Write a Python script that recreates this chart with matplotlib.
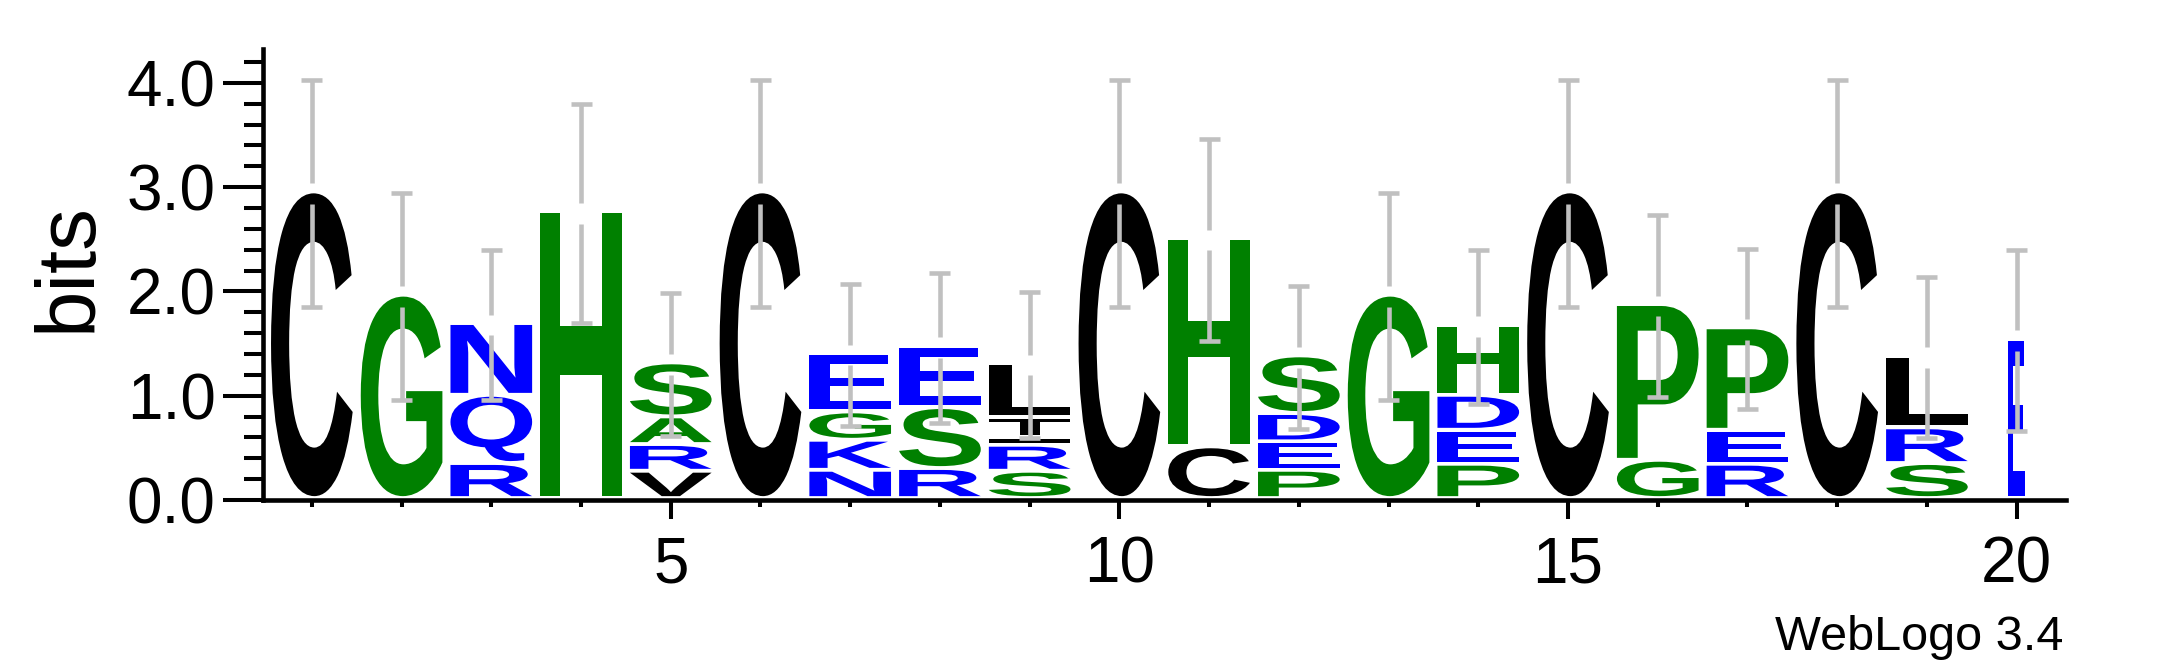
import matplotlib
matplotlib.use('Agg')
import matplotlib.pyplot as plt
from matplotlib.textpath import TextPath
from matplotlib.font_manager import FontProperties
from matplotlib.patches import PathPatch
from matplotlib.transforms import Affine2D
from matplotlib.ticker import MultipleLocator, FixedLocator

plt.rcParams['font.family'] = ['Liberation Sans', 'DejaVu Sans']

# ---- data (letters listed bottom -> top, heights in bits) ----
positions = list(range(1, 21))
stack_letters = [
    ['C'], ['G'], ['R', 'Q', 'N'], ['H'], ['V', 'R', 'A', 'S'],
    ['C'], ['N', 'K', 'G', 'E'], ['R', 'S', 'E'], ['S', 'R', 'I', 'T', 'L'], ['C'],
    ['C', 'H'], ['P', 'E', 'D', 'S'], ['G'], ['P', 'E', 'D', 'H'], ['C'],
    ['G', 'P'], ['R', 'E', 'P'], ['C'], ['S', 'R', 'L'], ['E'],
]
stack_heights = [
    [2.94], [1.95], [0.336, 0.654, 0.688], [2.75], [0.262, 0.256, 0.265, 0.518],
    [2.94], [0.271, 0.288, 0.272, 0.559], [0.288, 0.584, 0.588],
    [0.262, 0.249, 0.071, 0.195, 0.517], [2.94],
    [0.496, 1.997], [0.271, 0.273, 0.271, 0.553], [1.95], [0.329, 0.326, 0.335, 0.672], [2.94],
    [0.367, 1.493], [0.329, 0.326, 0.982], [2.94], [0.336, 0.342, 0.686], [1.527],
]
error_bars = [1.09, 0.99, 0.72, 1.05, 0.684, 1.09, 0.684, 0.72, 0.70, 1.09,
              0.965, 0.684, 0.99, 0.737, 1.09, 0.874, 0.767, 1.09, 0.77, 0.868]
column_widths = [1.0] * 19 + [0.2]

letter_colors = {
    'C': '#000000', 'L': '#000000', 'V': '#000000', 'T': '#000000', 'I': '#000000',
    'G': '#008000', 'H': '#008000', 'S': '#008000', 'P': '#008000', 'A': '#008000',
    'N': '#0000ff', 'Q': '#0000ff', 'R': '#0000ff', 'K': '#0000ff',
    'E': '#0000ff', 'D': '#0000ff',
}

W, H = 2167, 667
fig = plt.figure(figsize=(W / 100, H / 100), dpi=100)
ax_left, ax_right = 262.5 / W, 2066 / W
ax_bottom, ax_top = 1 - 500 / H, 1 - 49.4 / H
ax = fig.add_axes([ax_left, ax_bottom, ax_right - ax_left, ax_top - ax_bottom])

fp = FontProperties(family='Liberation Sans', weight='bold')
LETTER_W = 0.91
PAD = 0.037


def draw_letter(ch, xc, y0, y1, w, color):
    tp = TextPath((0, 0), ch, size=1, prop=fp)
    bb = tp.get_extents()
    t = (Affine2D().translate(-bb.x0, -bb.y0)
         .scale(w / bb.width, (y1 - y0) / bb.height)
         .translate(xc - w / 2, y0))
    ax.add_patch(PathPatch(t.transform_path(tp), fc=color, ec='none', lw=0, zorder=2))


GAP = 0.10
CAP = 0.234
ecol = '#c0c0c0'
for pos, lets, hts, err, cw in zip(positions, stack_letters, stack_heights,
                                   error_bars, column_widths):
    y = 0.0
    for ch, h in zip(lets, hts):
        draw_letter(ch, pos, y + PAD, y + h, LETTER_W * cw, letter_colors[ch])
        y += h
    top = y
    kw = dict(color=ecol, lw=3.3, solid_capstyle='butt', zorder=3)
    ax.plot([pos, pos], [top + GAP, top + err], **kw)
    ax.plot([pos, pos], [top - err, top - GAP], **kw)
    ax.plot([pos - CAP / 2, pos + CAP / 2], [top + err, top + err], **kw)
    ax.plot([pos - CAP / 2, pos + CAP / 2], [top - err, top - err], **kw)

ax.set_xlim(0.45, 20.55)
ax.set_ylim(0, 4.32)
for s in ['top', 'right']:
    ax.spines[s].set_visible(False)
for s in ['left', 'bottom']:
    ax.spines[s].set_linewidth(3.3)

ax.yaxis.set_major_locator(FixedLocator([0, 1, 2, 3, 4]))
ax.yaxis.set_minor_locator(MultipleLocator(0.2))
ax.set_yticklabels(['0.0', '1.0', '2.0', '3.0', '4.0'])
ax.xaxis.set_major_locator(FixedLocator([5, 10, 15, 20]))
ax.xaxis.set_minor_locator(FixedLocator(positions))
ax.set_xticklabels(['5', '10', '15', '20'])

ax.tick_params(axis='y', which='major', length=28.8, width=2.9, labelsize=46, pad=5)
ax.tick_params(axis='y', which='minor', length=13.7, width=2.9)
ax.tick_params(axis='x', which='major', length=13.7, width=2.9, labelsize=46, pad=12)
ax.tick_params(axis='x', which='minor', length=5.3, width=2.9)

fig.text(69 / W, 1 - 267.5 / H, 'bits', rotation=90, ha='center', va='center', fontsize=60)
fig.text(2063 / W, 1 - 650 / H, 'WebLogo 3.4', ha='right', va='baseline', fontsize=35)

fig.savefig('out.png', dpi=100)
